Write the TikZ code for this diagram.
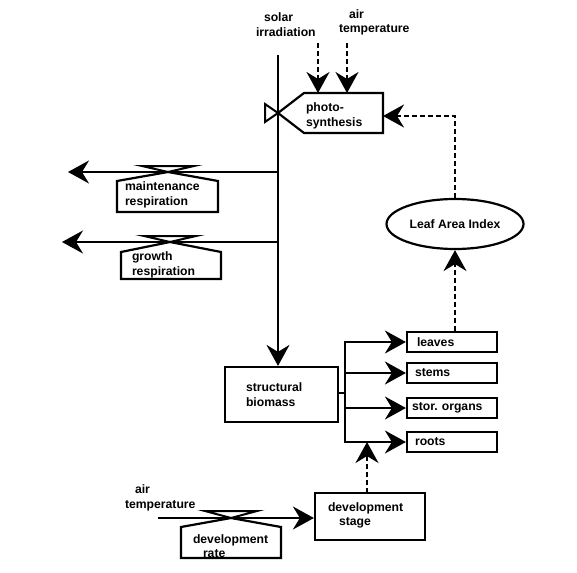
\documentclass[tikz,border=0pt]{standalone}
\usepackage{fontspec}
\setmainfont{Liberation Sans}
\usetikzlibrary{arrows.meta,shapes.geometric}
\begin{document}
\begin{tikzpicture}[x=1pt,y=-1pt,
  line width=2pt, line join=miter,
  txt/.style={font=\fontsize{12.2}{14.5}\selectfont\bfseries, inner sep=0pt, align=left, anchor=west},
  box/.style={draw, line width=2.2pt, inner sep=0pt},
  organ/.style={box, minimum width=90pt, minimum height=20pt, text width=80pt, inner xsep=5pt, align=left, font=\fontsize{12.2}{14}\selectfont\bfseries},
  flow/.style={-{Stealth[length=21pt,width=23pt,inset=7pt]}, line width=2pt},
  info/.style={flow, dash pattern=on 5pt off 3pt}]
\useasboundingbox (0,0) rectangle (577,572);

% main carbon flow
\coordinate (top) at (278,55);
\node[box, minimum width=113pt, minimum height=55pt] (sb) at (281.5,394.5) {};
\node[txt] (sbt) at (245,394.5) {structural\\biomass};
\draw[flow] (top) -- (top |- sb.north);

% photosynthesis
\coordinate (psA) at (278,113);
\coordinate (psTL) at (304,93);
\coordinate (psTR) at (383,93);
\coordinate (psBR) at (383,133);
\coordinate (psBL) at (304,133);
\draw[fill=white, line width=2.2pt] (psA) -- (psTL) -- (psTR) -- (psBR) -- (psBL) -- cycle;
\draw (psA) -- (265,104) -- (265,122) -- cycle;
\node[txt] (pst) at (305,116) {photo-\\synthesis};

% drivers of photosynthesis
\node[txt] (solar) at (255,24.5) {\hspace*{8pt}solar\\irradiation};
\node[txt] (airT) at (338,22.5) {\hspace*{10pt}air\\temperature};
\coordinate (irr) at (318,43);
\coordinate (atm) at (347,43);
\draw[info] (irr) -- (irr |- psTL);
\draw[info] (atm) -- (atm |- psTL);

% Leaf Area Index
\node[draw, ellipse, line width=2.2pt, minimum width=137pt, minimum height=50pt, inner sep=0pt,
      font=\fontsize{12.2}{14}\selectfont\bfseries] (lai) at (455,224) {Leaf Area Index};
\coordinate (lk) at (455,116);
\draw[info] (lai.north) -- (lk) -- (lk -| psTR);

% maintenance respiration
\coordinate (mrA) at (168,172);
\coordinate (mrE) at (68,172);
\draw[flow] (top |- mrA) -- (mrE);
\draw[fill=white] (142,166) -- (194,166) -- (mrA) -- cycle;
\draw[fill=white, line width=2.2pt] (mrA) -- (218,181) -- (218,212) -- (117,212) -- (117,181) -- cycle;
\node[txt] (mrt) at (124,195) {maintenance\\respiration};

% growth respiration
\coordinate (grA) at (170,242);
\coordinate (grE) at (62,242);
\draw[flow] (top |- grA) -- (grE);
\draw[fill=white] (144,236) -- (196,236) -- (grA) -- cycle;
\draw[fill=white, line width=2.2pt] (grA) -- (221,252) -- (221,279) -- (121,279) -- (121,252) -- cycle;
\node[txt] (grt) at (131,265) {growth\\respiration};

% organs
\node[organ] (leaves) at (452,342) {\hspace*{5pt}leaves};
\node[organ] (stems) at (452,373) {\hspace*{3pt}stems};
\node[organ] (stor) at (452,408) {stor.\ organs};
\node[organ] (roots) at (452,442) {\hspace*{3pt}roots};
\coordinate (br) at (345,393);
\draw (sb.east |- br) -- (br);
\draw[line cap=rect] (br |- leaves.west) -- (br |- roots.west);
\foreach \n in {leaves,stems,stor,roots}
  \draw[flow] (br |- \n.west) -- (\n.west);
\draw[info] (leaves.north -| lai.south) -- (lai.south);

% development
\node[box, minimum width=110pt, minimum height=47pt] (ds) at (370,516.5) {};
\node[txt] (dst) at (327,515.5) {development\\\hspace*{11pt}stage};
\coordinate (dsk) at (367,493);
\draw[info] (dsk) -- (dsk |- roots.west);

\node[txt] (at2) at (124,498) {\hspace*{10pt}air\\temperature};
\coordinate (drA) at (231,518);
\coordinate (drS) at (158,518);
\draw[flow] (drS) -- (drS -| ds.west);
\draw[fill=white] (205,511) -- (257,511) -- (drA) -- cycle;
\draw[fill=white, line width=2.2pt] (drA) -- (281,527) -- (281,558) -- (181,558) -- (181,527) -- cycle;
\node[txt] (drt) at (192,546) {development\\\hspace*{10pt}rate};
\end{tikzpicture}
\end{document}
